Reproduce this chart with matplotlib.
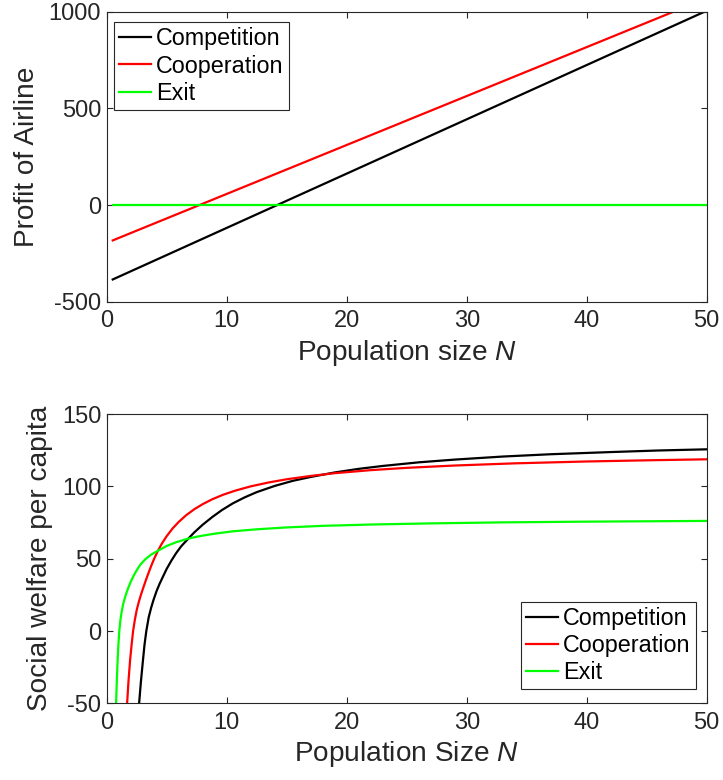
import matplotlib
matplotlib.use("Agg")
import matplotlib.pyplot as plt

plt.rcParams["font.family"] = ["Liberation Sans", "DejaVu Sans"]
plt.rcParams["mathtext.fontset"] = "custom"
plt.rcParams["mathtext.it"] = "Liberation Sans:italic"
plt.rcParams["mathtext.rm"] = "Liberation Sans"
plt.rcParams["axes.unicode_minus"] = False

# ---- Profit of the airline (straight lines in N) ----
profit_N = [0.5, 50]
profit_competition = [-385, 1005]
profit_cooperation = [-183, 1070]
profit_exit = [0, 0]

# ---- Social welfare per capita ----
welfare_N_competition = [2.7, 2.85, 3.0, 3.15, 3.3, 3.5, 3.7, 3.9, 4.15, 4.4, 4.7,
                         5.0, 5.4, 5.8, 6.2, 6.7, 7.3, 8.0, 8.8, 9.6, 10.5, 11.5,
                         12.5, 14, 15.5, 17, 19, 21, 23, 26, 29, 33, 37, 42, 46, 50]
welfare_competition = [-50, -35, -22, -9.5, 0, 9.5, 16, 21.5, 27.5, 32.5, 37.8,
                       43, 48.8, 54, 58.5, 63, 68.2, 73.5, 78.8, 83.6, 88.2, 92.4,
                       96, 100.3, 103.8, 106.5, 109.6, 112.1, 114.1, 116.6, 118.5,
                       120.6, 122.2, 123.7, 124.8, 125.6]

welfare_N_cooperation = [1.7, 1.82, 1.95, 2.08, 2.2, 2.35, 2.5, 2.67, 2.85, 3.05,
                         3.3, 3.5, 3.7, 3.95, 4.25, 4.6, 5.0, 5.5, 6.0, 6.6, 7.3,
                         8.0, 8.8, 9.7, 10.7, 12, 13.5, 15, 17, 19, 22, 25, 29, 34,
                         40, 45, 50]
welfare_cooperation = [-50, -34, -20, -9, 0, 8, 14.5, 20, 25, 30,
                       36, 40.5, 44.9, 49.9, 55.2, 60.5, 65.6, 71.0, 75.4, 79.9, 84.2,
                       87.7, 91.1, 94.2, 97.0, 100.0, 102.7, 104.9, 107.2, 109.1,
                       111.2, 112.8, 114.4, 115.9, 117.2, 118.0, 118.7]

welfare_N_exit = [0.78, 0.84, 0.9, 0.97, 1.05, 1.14, 1.25, 1.37, 1.5, 1.65, 1.82,
                  2.0, 2.25, 2.5, 2.8, 3.2, 3.7, 4.25, 5.0, 5.8, 6.7, 7.7, 9,
                  10.5, 12.5, 15, 18, 22, 27, 33, 40, 50]
welfare_exit = [-50, -35, -22, -10, 0, 7.5, 13.5, 18.5, 22.5, 26.5, 30.3,
                34, 38.3, 42, 45.8, 49.5, 52.8, 55.4, 58.8, 61.4, 63.7, 65.5, 67.3,
                68.9, 70.3, 71.6, 72.7, 73.6, 74.4, 75.1, 75.6, 76.1]

labels = ["Competition", "Cooperation", "Exit"]
colors = ["#000000", "#ff0000", "#00ff00"]

axis_color = "#262626"
LW = 1.6
LABEL_SIZE = 20.2

fig = plt.figure(figsize=(7.23, 7.8), dpi=100)
ax1 = fig.add_axes([0.1476, 0.6132, 0.8299, 0.3718])
ax2 = fig.add_axes([0.1476, 0.0983, 0.8299, 0.3709])


def style_axes(ax):
    for sp in ax.spines.values():
        sp.set_color(axis_color)
        sp.set_linewidth(0.8)
    ax.tick_params(direction="in", length=4.5, width=0.8, colors=axis_color,
                   labelsize=17, top=True, right=True, pad=4)
    ax.tick_params(axis="x", pad=6)


def add_legend(ax, loc, anchor):
    leg = ax.legend(loc=loc, bbox_to_anchor=anchor, borderaxespad=0,
                    fontsize=16.8, frameon=True, fancybox=False,
                    edgecolor=axis_color, framealpha=1, handlelength=1.35,
                    handletextpad=0.22, labelspacing=0.18, borderpad=0.22)
    leg.get_frame().set_linewidth(0.8)
    return leg


ax1.plot(profit_N, profit_competition, color=colors[0], lw=LW, label=labels[0])
ax1.plot(profit_N, profit_cooperation, color=colors[1], lw=LW, label=labels[1])
ax1.plot(profit_N, profit_exit, color=colors[2], lw=LW, label=labels[2])
ax1.set_xlim(0, 50)
ax1.set_ylim(-500, 1000)
ax1.set_xticks([0, 10, 20, 30, 40, 50])
ax1.set_yticks([-500, 0, 500, 1000])
style_axes(ax1)
ax1.set_xlabel("Population size $N$", fontsize=LABEL_SIZE, color=axis_color, labelpad=4)
ax1.set_ylabel("Profit of Airline", fontsize=LABEL_SIZE, color=axis_color, labelpad=6)
add_legend(ax1, "upper left", (0.0127, 0.9634))

ax2.plot(welfare_N_competition, welfare_competition, color=colors[0], lw=LW, label=labels[0])
ax2.plot(welfare_N_cooperation, welfare_cooperation, color=colors[1], lw=LW, label=labels[1])
ax2.plot(welfare_N_exit, welfare_exit, color=colors[2], lw=LW, label=labels[2])
ax2.set_xlim(0, 50)
ax2.set_ylim(-50, 150)
ax2.set_xticks([0, 10, 20, 30, 40, 50])
ax2.set_yticks([-50, 0, 50, 100, 150])
style_axes(ax2)
ax2.set_xlabel("Population Size $N$", fontsize=LABEL_SIZE, color=axis_color, labelpad=4)
ax2.set_ylabel("Social welfare per capita", fontsize=LABEL_SIZE, color=axis_color, labelpad=6)
add_legend(ax2, "lower right", (0.9817, 0.0484))

fig.savefig("out.png", dpi=100)
